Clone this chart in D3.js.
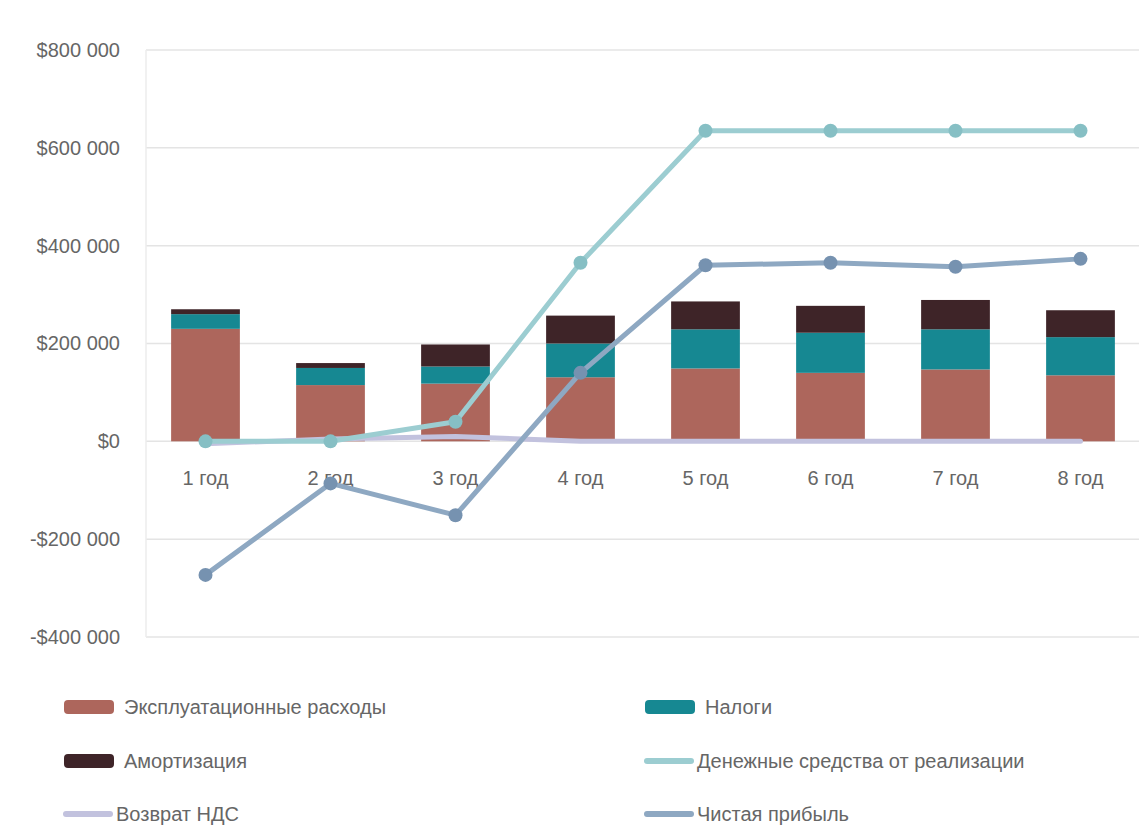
<!DOCTYPE html>
<html>
<head>
<meta charset="utf-8">
<script src="https://cdn.jsdelivr.net/npm/d3@7"></script>
<style>
  html, body { margin: 0; padding: 0; background: #ffffff; }
  svg { display: block; font-family: "Liberation Sans", Arial, sans-serif; }
</style>
</head>
<body>
<svg id="chart" width="1139" height="828"></svg>
<script>
// ---- data ----
const categories = ["1 год", "2 год", "3 год", "4 год", "5 год", "6 год", "7 год", "8 год"];
const opex   = [230000, 115000, 118000, 131000, 149000, 140000, 147000, 135000];
const taxes  = [30000, 35000, 35000, 69000, 80000, 82000, 82000, 78000];
const amort  = [10000, 10000, 45000, 57000, 57000, 55000, 60000, 55000];
const vat    = [-5000, 5000, 10000, 0, 0, 0, 0, 0];
const revenue = [0, 0, 40000, 365000, 635000, 635000, 635000, 635000];
const netProfit = [-273000, -86000, -151000, 140000, 360000, 365000, 357000, 373000];
const yTicks = [-400000, -200000, 0, 200000, 400000, 600000, 800000];

const barSeries = [
  { name: "Эксплуатационные расходы", values: opex,  color: "#ad665c" },
  { name: "Налоги",                   values: taxes, color: "#168892" },
  { name: "Амортизация",              values: amort, color: "#3e2428" }
];
const lineSeries = [
  { name: "Возврат НДС", values: vat, color: "#c2c2de", marker: false },
  { name: "Денежные средства от реализации", values: revenue, color: "#9ccdd1", marker: true, mcolor: "#86bfc4" },
  { name: "Чистая прибыль", values: netProfit, color: "#8ea8c2", marker: true, mcolor: "#7692b0" }
];

// ---- chart ----
const FS = 20;
const svg = d3.select("#chart");
const x = d3.scaleBand().domain(categories).range([143, 1143]).paddingInner(0.45).paddingOuter(0.225);
const y = d3.scaleLinear().domain([-400000, 800000]).range([637, 50]);

const fmt = v => {
  const s = d3.format(",")(Math.abs(v)).replace(/,/g, " ");
  return (v < 0 ? "-$" : "$") + s;
};

// gridlines
svg.append("g")
  .selectAll("line").data(yTicks).join("line")
  .attr("x1", 146).attr("x2", 1139)
  .attr("y1", d => y(d)).attr("y2", d => y(d))
  .attr("stroke", "#e4e4e4").attr("stroke-width", 1.5);

// left border of plot area
svg.append("line").attr("x1", 146).attr("x2", 146).attr("y1", y(800000)).attr("y2", y(-400000))
  .attr("stroke", "#ececec").attr("stroke-width", 1.5);

// y axis labels
const yAxis = d3.axisLeft(y).tickValues(yTicks).tickFormat(fmt).tickSize(0).tickPadding(0);
const ya = svg.append("g").attr("transform", "translate(120,0)").call(yAxis);
ya.select(".domain").remove();
ya.selectAll("text").attr("font-size", FS).attr("fill", "#666").attr("font-family", "Liberation Sans, Arial, sans-serif");

// stacked bars
const stackData = categories.map((c, i) => {
  const o = { cat: c };
  barSeries.forEach(s => o[s.name] = s.values[i]);
  return o;
});
const stack = d3.stack().keys(barSeries.map(s => s.name));
const layers = stack(stackData);
svg.append("g").selectAll("g").data(layers).join("g")
  .attr("fill", (d, i) => barSeries[i].color)
  .selectAll("rect").data(d => d).join("rect")
  .attr("x", d => x(d.data.cat))
  .attr("width", x.bandwidth())
  .attr("y", d => y(d[1]))
  .attr("height", d => Math.max(0, y(d[0]) - y(d[1])));

// x axis (category labels)
const xAxis = d3.axisBottom(x).tickSize(0).tickPadding(0);
const xa = svg.append("g").attr("transform", "translate(0,478)").call(xAxis);
xa.select(".domain").remove();
xa.selectAll("text").attr("font-size", FS).attr("fill", "#666").attr("dy", "0.35em")
  .attr("font-family", "Liberation Sans, Arial, sans-serif");

// lines
const lineGen = d3.line().x((d, i) => x(categories[i]) + x.bandwidth() / 2).y(d => y(d));
lineSeries.forEach(s => {
  svg.append("path").datum(s.values)
    .attr("d", lineGen)
    .attr("fill", "none").attr("stroke", s.color).attr("stroke-width", 5)
    .attr("stroke-linejoin", "round").attr("stroke-linecap", "round");
  if (s.marker) {
    svg.append("g").selectAll("circle").data(s.values).join("circle")
      .attr("cx", (d, i) => x(categories[i]) + x.bandwidth() / 2)
      .attr("cy", d => y(d))
      .attr("r", 7).attr("fill", s.mcolor);
  }
});

// legend
const legendItems = [
  { s: barSeries[0], type: "bar", col: 0, row: 0 },
  { s: barSeries[1], type: "bar", col: 1, row: 0 },
  { s: barSeries[2], type: "bar", col: 0, row: 1 },
  { s: lineSeries[1], type: "line", col: 1, row: 1 },
  { s: lineSeries[0], type: "line", col: 0, row: 2 },
  { s: lineSeries[2], type: "line", col: 1, row: 2 }
];
const colX = [64, 645], rowY = [707, 761, 814];
const lg = svg.append("g");
legendItems.forEach(it => {
  const gx = colX[it.col], gy = rowY[it.row];
  if (it.type === "bar") {
    lg.append("rect").attr("x", gx).attr("y", gy - 7).attr("width", 50).attr("height", 14)
      .attr("rx", 4).attr("fill", it.s.color);
    lg.append("text").attr("x", gx + 60).attr("y", gy).attr("dy", "0.35em")
      .attr("font-size", FS).attr("fill", "#666").text(it.s.name);
  } else {
    lg.append("line").attr("x1", gx + 2).attr("x2", gx + 46).attr("y1", gy).attr("y2", gy)
      .attr("stroke", it.s.color).attr("stroke-width", 6).attr("stroke-linecap", "round");
    lg.append("text").attr("x", gx + 52).attr("y", gy).attr("dy", "0.35em")
      .attr("font-size", FS).attr("fill", "#666").text(it.s.name);
  }
});
</script>
</body>
</html>
